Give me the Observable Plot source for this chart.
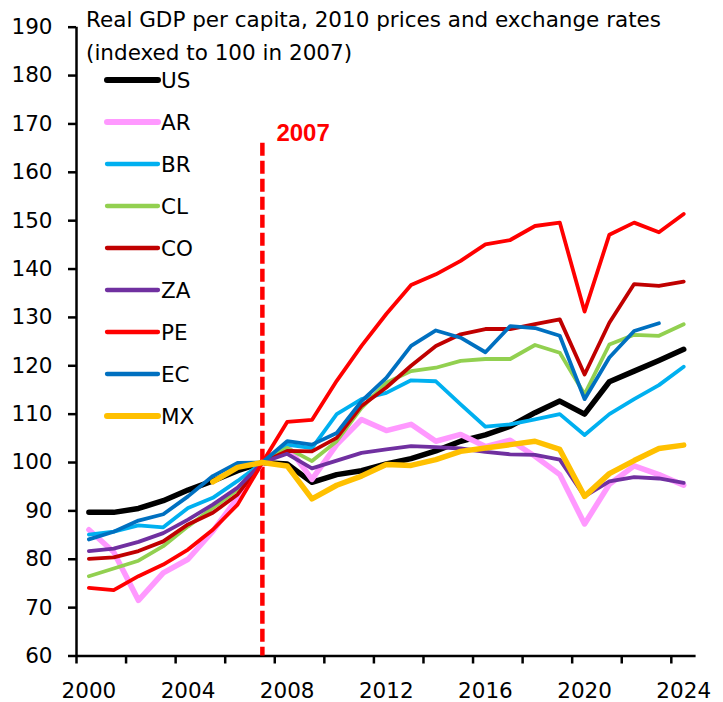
<!DOCTYPE html>
<html><head><meta charset="utf-8">
<script src="https://cdn.jsdelivr.net/npm/d3@7"></script>
<script src="https://cdn.jsdelivr.net/npm/@observablehq/plot@0.6"></script>
<style>
body{margin:0;background:#fff}
#chart{position:relative;width:723px;height:702px}
</style>
</head><body><div id="chart"></div>
<script>
const years = [2000,2001,2002,2003,2004,2005,2006,2007,2008,2009,2010,2011,2012,2013,2014,2015,2016,2017,2018,2019,2020,2021,2022,2023,2024];
const US = [89.7,89.7,90.5,92.1,94.3,96.2,98.3,100,99.7,95.9,97.5,98.3,99.7,100.8,102.4,104.4,105.7,107.5,110.3,112.7,110.0,116.7,118.9,121.1,123.4];
const AR = [86.1,81.5,71.5,77.2,80.0,85.8,92.7,100,103.5,96.5,103.7,108.9,106.6,107.9,104.4,105.8,103.3,104.6,101.3,97.5,87.3,95.5,99.3,97.5,95.3];
const BR = [85.1,85.7,87.0,86.6,90.6,92.7,96.2,100,103.7,103.0,110.0,113.1,114.4,117.0,116.8,112.0,107.4,107.9,108.9,110.0,105.7,110.0,113.1,116.0,119.8];
const CL = [76.5,78.1,79.7,82.7,86.8,90.6,94.4,100,103.0,100.3,104.4,111.3,116.5,118.9,119.6,121.0,121.4,121.4,124.3,122.7,114.1,124.4,126.4,126.2,128.6];
const CO = [80.1,80.4,81.7,83.7,87.2,89.6,93.4,100,102.4,102.3,105.1,111.7,115.5,120.0,124.1,126.5,127.6,127.6,128.6,129.6,118.2,128.9,136.9,136.5,137.4];
const ZA = [81.7,82.2,83.6,85.4,88.2,91.3,94.8,100,101.8,98.8,100.4,102.0,102.7,103.4,103.2,102.9,102.2,101.7,101.6,100.6,93.0,96.1,97.0,96.7,95.8];
const PE = [74.1,73.6,76.5,78.9,82.0,86.1,91.3,100,108.4,108.8,116.9,124.1,130.7,136.7,138.9,141.7,145.1,146.0,148.9,149.6,131.2,147.1,149.6,147.6,151.4];
const EC = [84.1,85.7,88.0,89.3,93.0,97.2,99.9,100,104.4,103.7,106.1,112.7,117.5,124.1,127.3,125.8,122.8,128.2,127.8,126.2,113.1,121.7,127.2,128.8,null];
const MX = [null,null,null,null,null,96.0,99.0,100,99.3,92.5,95.3,97.2,99.6,99.4,100.6,102.3,103.0,103.7,104.4,102.7,93.0,97.7,100.4,102.9,103.6];

const seriesNames = ["US","AR","BR","CL","CO","ZA","PE","EC","MX"];
const seriesValues = [US,AR,BR,CL,CO,ZA,PE,EC,MX];
const seriesColors = ["#000000","#FF99FF","#00B0F0","#92D050","#C00000","#7030A0","#FF0000","#0070C0","#FFC000"];
const seriesWidths = [5.5,5.5,3.8,3.8,3.8,3.8,3.8,3.8,5.5];

const yTicks = [60,70,80,90,100,110,120,130,140,150,160,170,180,190];
const xTickMarks = [1999.5,2001.5,2003.5,2005.5,2007.5,2009.5,2011.5,2013.5,2015.5,2017.5,2019.5,2021.5,2023.5];
const xTickLabels = [2000,2004,2008,2012,2016,2020,2024];
const xDomain = [1999.5, 2024.5];
const yDomain = [60, 190];
const eventYear = [2007];
const eventTop = 166;
const eventLabel = "2007";
const titleLines = ["Real GDP per capita, 2010 prices and exchange rates", "(indexed to 100 in 2007)"];

const FONT = "'DejaVu Sans', sans-serif";

const rows = [];
seriesNames.forEach((name, i) => {
  years.forEach((yr, j) => rows.push({series: name, year: yr, value: seriesValues[i][j]}));
});

const lineMarks = seriesNames.map((name, i) =>
  Plot.line(rows.filter(d => d.series === name), {
    x: "year", y: "value",
    stroke: seriesColors[i], strokeWidth: seriesWidths[i],
    strokeLinejoin: "round", strokeLinecap: "round",
    defined: d => d.value != null
  })
);

const chart = Plot.plot({
  width: 723, height: 702,
  marginLeft: 76, marginRight: 27.4, marginTop: 26.7, marginBottom: 46.5,
  style: {fontFamily: FONT, fontSize: "21.5px", color: "#000", background: "#fff"},
  x: {domain: xDomain, type: "linear"},
  y: {domain: yDomain},
  marks: [
    Plot.axisY({ticks: yTicks, tickSize: 8, tickPadding: 16, strokeWidth: 2.5, label: null, tickFormat: d => String(d)}),
    Plot.axisX({ticks: xTickMarks, tickSize: 8, strokeWidth: 2.5, tickFormat: () => "", label: null}),
    Plot.axisX({ticks: xTickLabels, tickSize: 0, tickPadding: 27, label: null, tickFormat: d => String(d)}),
    Plot.ruleX([xDomain[0]], {y1: yDomain[0], y2: yDomain[1], stroke: "#000", strokeWidth: 2.5}),
    Plot.ruleY([yDomain[0]], {stroke: "#000", strokeWidth: 2.5}),
    Plot.ruleX(eventYear, {y1: eventTop, y2: yDomain[0], stroke: "#FF0000", strokeWidth: 4.5, strokeDasharray: "13,5"}),
    Plot.text(eventYear, {x: d => d, y: eventTop, text: () => eventLabel, textAnchor: "start", lineAnchor: "bottom",
      dx: 14, dy: -2, fill: "#FF0000", fontWeight: "bold", fontSize: 24, fontFamily: "'Liberation Sans', Arial, sans-serif"}),
    ...lineMarks
  ]
});
document.getElementById("chart").appendChild(chart);

// title and legend drawn inside the same svg
const svg = d3.select(chart);
const ann = svg.append("g")
  .attr("font-family", FONT).attr("font-size", "21.5px")
  .attr("fill", "#000").attr("text-anchor", "start");
ann.selectAll("text.title").data(titleLines).join("text")
  .attr("class", "title")
  .attr("text-anchor", "start")
  .attr("x", 86).attr("y", (d, i) => 27 + i * 33)
  .text(d => d);

const leg = ann.append("g");
const legRows = leg.selectAll("g").data(seriesNames).join("g")
  .attr("transform", (d, i) => `translate(0,${80 + i * 42})`);
legRows.append("line")
  .attr("x1", 107).attr("x2", 158).attr("y1", 0).attr("y2", 0)
  .attr("stroke", (d, i) => seriesColors[i])
  .attr("stroke-width", (d, i) => seriesWidths[i] + 0.5)
  .attr("stroke-linecap", "round");
legRows.append("text")
  .attr("text-anchor", "start")
  .attr("x", 161).attr("y", 0).attr("dy", "0.365em")
  .text(d => d);
</script>
</body></html>
